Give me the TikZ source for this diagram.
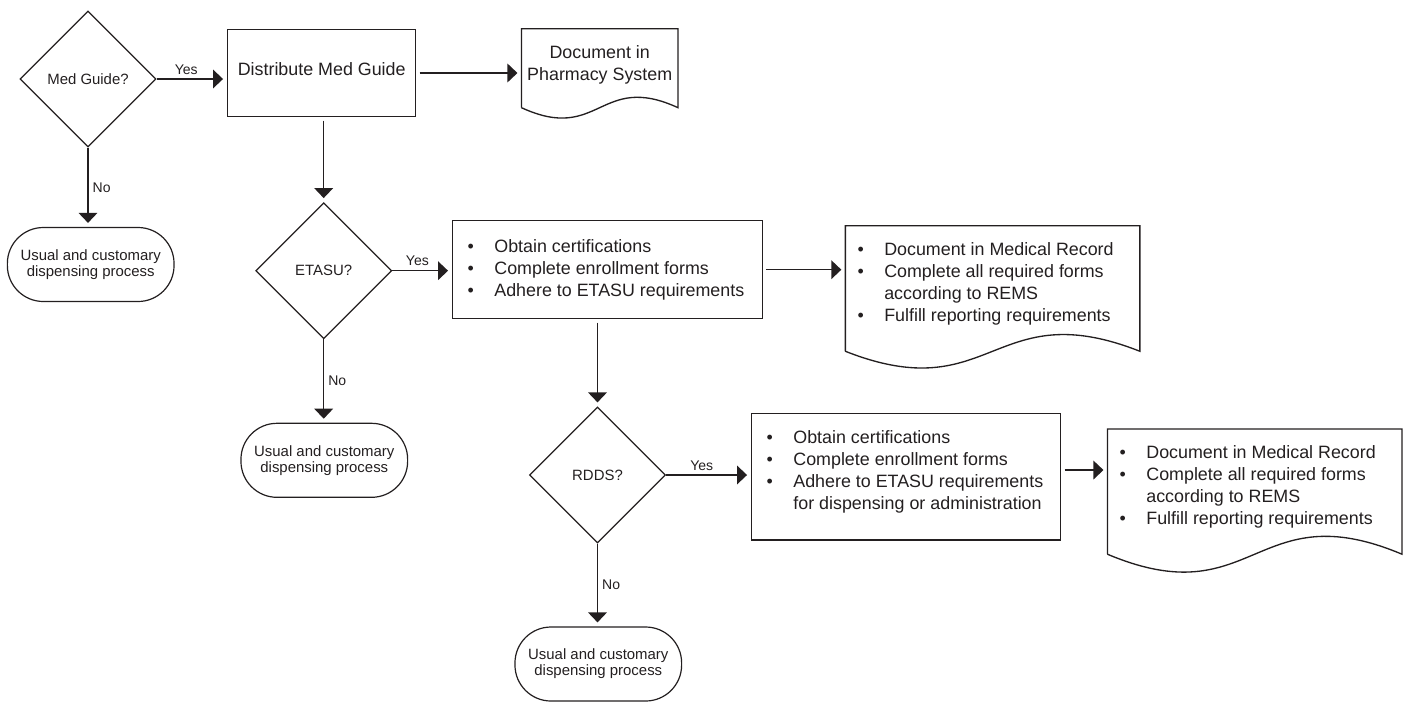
\documentclass[tikz,border=0pt]{standalone}
\usepackage{fontspec}
\setmainfont{Liberation Sans}
\usepackage{tikz}
\usetikzlibrary{arrows.meta,calc,shapes.geometric}

\definecolor{ink}{RGB}{35,31,32}
\newcommand{\bigfont}{\fontsize{13.4}{16.5}\selectfont}
\newcommand{\smallfont}{\fontsize{11.2}{12}\selectfont}
\newcommand{\lblfont}{\fontsize{10.5}{12}\selectfont}
\newcommand{\bul}{\makebox[20pt][l]{\textbullet}}
\newcommand{\liftup}[2]{\raisebox{#1}[\height][\depth]{#2}}
\newcommand{\itemlist}[2]{\makebox[#1][l]{\begin{tabular}{@{}l@{}l@{}}#2\end{tabular}}}
\newcommand{\docoutline}[2]{%
  \draw[draw=ink, line width=1pt] (#1.south west) -- (#1.north west) -- (#1.north east) -- (#1.south east)
    .. controls ($(#1.south)+(0,-#2)$) and ($(#1.south)+(0,#2)$) .. (#1.south west);}

\begin{document}
\begin{tikzpicture}[x=0.75pt, y=-0.75pt]
      \tikzstyle{decision} = [draw=ink, diamond, line width = 0.9pt, minimum width = 102pt, minimum height = 102pt, inner sep = 0pt, font = \smallfont, text = ink]
      \tikzstyle{process} = [draw=ink, rectangle, line width = 1pt, inner sep = 0pt, font = \bigfont, text = ink]
      \tikzstyle{terminal} = [draw=ink, rectangle, rounded corners = 27pt, line width = 0.9pt, minimum width = 125pt, minimum height = 55.5pt, align = center, font = \smallfont, text = ink]
      \tikzstyle{docnode} = [rectangle, inner sep = 0pt, font = \bigfont, text = ink]
      \tikzstyle{flow} = [draw=ink, line width = 1pt, -{Triangle[length=7.5pt, width=14pt]}, shorten >= 3pt]
      \tikzstyle{yeslbl} = [above, pos = 0.42, font = \lblfont, text = ink, inner sep = 3pt]
      \tikzstyle{nolbl} = [right, pos = 0.5, font = \lblfont, text = ink, inner sep = 3pt]
      \useasboundingbox (0,0) rectangle (1406,701);

      \node[decision] (mg) at (88,79) {Med Guide?};
      \node[process, minimum width = 141pt, minimum height = 65.5pt] (dist) at (321.7,73) {\liftup{3pt}{Distribute Med Guide}};
      \node[docnode, minimum width = 117pt, minimum height = 58.8pt] (pharm) at (599.7,68.2)
        {\liftup{2pt}{\begin{tabular}{@{}c@{}}Document in\\Pharmacy System\end{tabular}}};
      \node[terminal] (usual1) at (90.7,264.5) {Usual and customary\\dispensing process};

      \node[decision] (etasu) at (323.7,270.7) {ETASU?};
      \node[process, minimum width = 232.2pt, minimum height = 73.5pt] (certA) at (607.5,269.7)
        {\itemlist{209.7pt}{\bul & Obtain certifications\\ \bul & Complete enrollment forms\\ \bul & Adhere to ETASU requirements}};
      \node[docnode, minimum width = 220.5pt, minimum height = 93.75pt] (recA) at (992.6,288.5)
        {\liftup{3.5pt}{\itemlist{202.5pt}{\bul & Document in Medical Record\\ \bul & Complete all required forms\\ & according to REMS\\ \bul & Fulfill reporting requirements}}};
      \node[terminal] (usual2) at (324.3,460.3) {Usual and customary\\dispensing process};

      \node[decision] (rdds) at (597.5,475) {RDDS?};
      \node[process, minimum width = 231.75pt, minimum height = 95pt] (certB) at (906.2,476.7)
        {\liftup{3.5pt}{\itemlist{209.25pt}{\bul & Obtain certifications\\ \bul & Complete enrollment forms\\ \bul & Adhere to ETASU requirements\\ & for dispensing or administration}}};
      \node[docnode, minimum width = 220.5pt, minimum height = 93.5pt] (recB) at (1254.7,491.6)
        {\liftup{3.2pt}{\itemlist{202.5pt}{\bul & Document in Medical Record\\ \bul & Complete all required forms\\ & according to REMS\\ \bul & Fulfill reporting requirements}}};
      \node[terminal] (usual3) at (598.3,664) {Usual and customary\\dispensing process};

      \docoutline{pharm}{36}
      \docoutline{recA}{58}
      \docoutline{recB}{62}

      \draw[flow] (mg.east) -- (mg.east -| dist.west) node[yeslbl] {Yes};
      \draw[flow] (mg.south) -- (mg.south |- usual1.north) node[nolbl] {No};
      \draw[flow, shorten <= 2.5pt] (dist.east) -- (dist.east -| pharm.west);
      \draw[flow, shorten <= 2.5pt] (etasu.north |- dist.south) -- (etasu.north);

      \draw[flow] (etasu.east) -- (etasu.east -| certA.west) node[yeslbl] {Yes};
      \draw[flow] (etasu.south) -- (etasu.south |- usual2.north) node[nolbl] {No};
      \draw[flow, shorten <= 2.5pt] (certA.east) -- (certA.east -| recA.west);
      \draw[flow, shorten <= 2.5pt] (rdds.north |- certA.south) -- (rdds.north);

      \draw[flow] (rdds.east) -- (rdds.east -| certB.west) node[yeslbl] {Yes};
      \draw[flow] (rdds.south) -- (rdds.south |- usual3.north) node[nolbl] {No};
      \draw[flow, shorten <= 2.5pt] ([yshift=5pt]certB.east) -- ([yshift=5pt]certB.east -| recB.west);
\end{tikzpicture}
\end{document}
